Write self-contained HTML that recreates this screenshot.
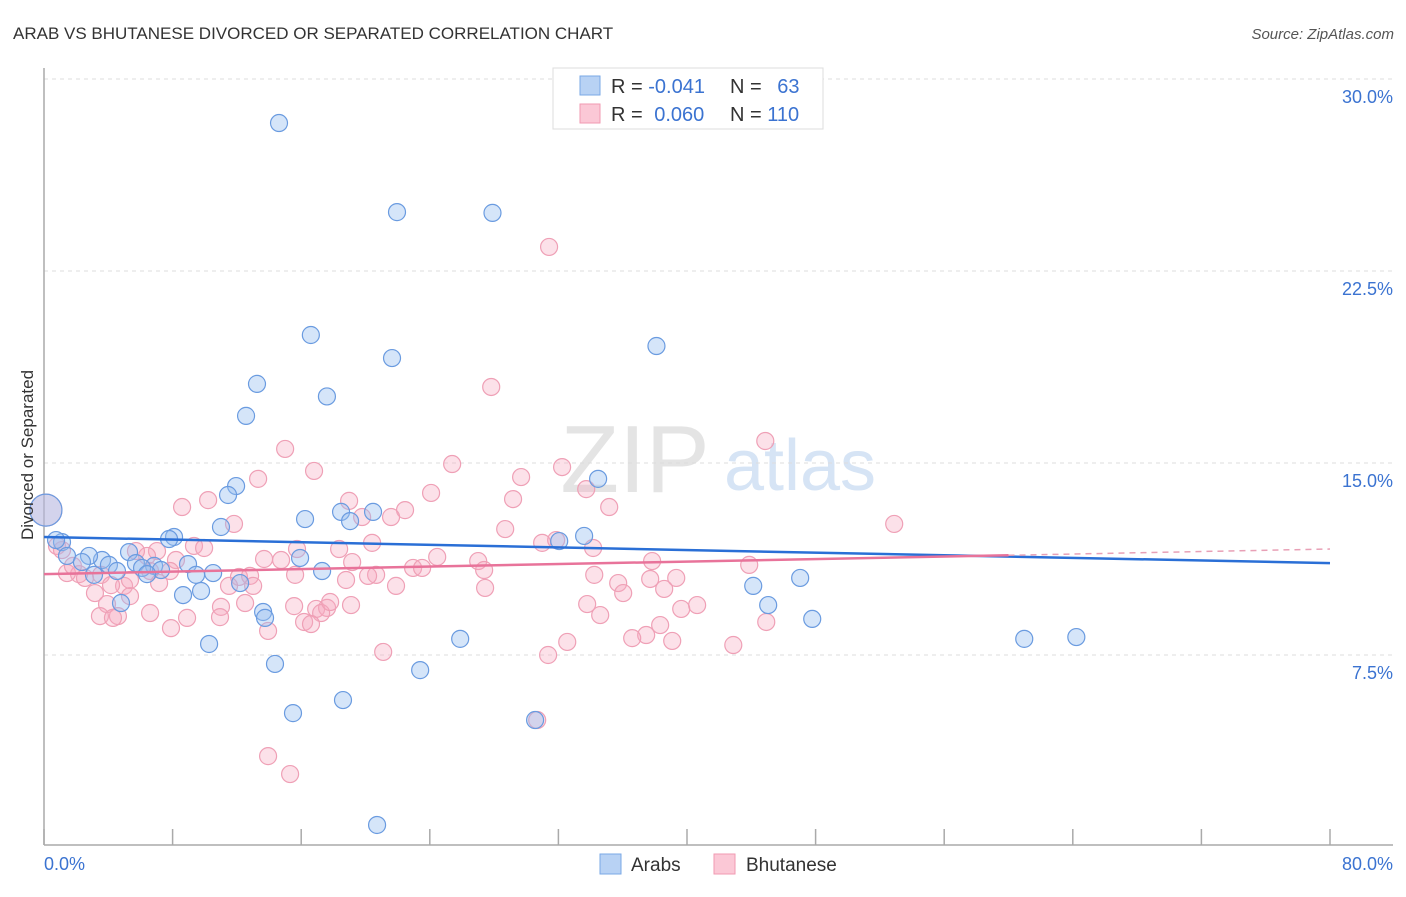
<!DOCTYPE html>
<html><head><meta charset="utf-8"><style>
body{margin:0;background:#fff;font-family:"Liberation Sans",sans-serif;}
svg text{font-family:"Liberation Sans",sans-serif;}
</style></head><body>
<svg id="c" width="1406" height="892" xmlns="http://www.w3.org/2000/svg">
<text x="13" y="39" font-size="17" fill="#333">ARAB VS BHUTANESE DIVORCED OR SEPARATED CORRELATION CHART</text>
<text x="1394" y="39" font-size="15" fill="#555" font-style="italic" text-anchor="end">Source: ZipAtlas.com</text>
<text x="635" y="492" font-size="96" fill="#e4e4e4" font-family="Liberation Serif" text-anchor="middle">ZIP</text>
<text x="800" y="490" font-size="72" fill="#d6e4f5" text-anchor="middle">atlas</text>
<g id="grid"></g><g id="axes"></g><g id="pts"></g><g id="lines"></g>
<text transform="translate(33,455) rotate(-90)" font-size="17" fill="#333" text-anchor="middle">Divorced or Separated</text>
<g>
<rect x="553" y="68" width="270" height="61" fill="#fff" stroke="#ddd"/>
<rect x="580" y="76" width="20" height="19" fill="#b8d2f4" stroke="#7aa8e6"/>
<rect x="580" y="104" width="20" height="19" fill="#fbc8d6" stroke="#f09ab2"/>
<text x="611" y="93" font-size="20" fill="#333">R = <tspan fill="#3b73d1">-0.041</tspan></text>
<text x="730" y="93" font-size="20" fill="#333">N = <tspan fill="#3b73d1" dx="10">63</tspan></text>
<text x="611" y="121" font-size="20" fill="#333">R = <tspan fill="#3b73d1" dx="6">0.060</tspan></text>
<text x="730" y="121" font-size="20" fill="#333">N = <tspan fill="#3b73d1">110</tspan></text>
</g>
<g>
<rect x="600" y="854" width="21" height="20" fill="#b8d2f4" stroke="#7aa8e6"/>
<text x="631" y="871" font-size="19" fill="#333">Arabs</text>
<rect x="714" y="854" width="21" height="20" fill="#fbc8d6" stroke="#f09ab2"/>
<text x="746" y="871" font-size="19" fill="#333">Bhutanese</text>
</g>
</svg>
<script>
const yTicks=[7.5,15,22.5,30];
const yTickLabels=["7.5%","15.0%","22.5%","30.0%"];
const xTicks=[0,8,16,24,32,40,48,56,64,72,80];
const xEndLabels=["0.0%","80.0%"];
const arabX=[14.62,21.96,27.9,16.6,21.65,38.1,13.25,17.6,12.57,34.47,11.95,11.45,20.47,18.48,16.24,19.04,11.01,33.6,32.05,8.09,7.78,1.12,0.75,0.12,5.29,6.85,3.61,2.8,1.43,4.04,2.36,5.72,6.1,7.28,6.41,3.11,4.54,8.96,10.52,9.46,15.93,17.3,8.65,9.77,12.2,4.79,13.63,13.75,44.12,45.05,47.04,47.79,10.27,25.89,14.37,23.4,15.49,18.6,30.55,20.72,60.98,64.22];
const arabY=[28.28,24.8,24.77,20.0,19.1,19.57,18.09,17.6,16.84,14.38,14.1,13.75,13.09,13.09,12.81,12.73,12.5,12.15,11.95,12.11,12.03,11.91,11.99,13.16,11.52,10.98,11.21,11.37,11.37,11.02,11.13,11.09,10.9,10.82,10.66,10.63,10.78,11.05,10.7,10.63,11.29,10.78,9.84,10.0,10.31,9.53,9.18,8.95,10.2,9.45,10.51,8.91,7.93,8.13,7.15,6.91,5.23,5.74,4.96,0.86,8.13,8.2];
const bhuX=[31.42,27.82,44.87,15.0,25.39,16.8,32.23,13.32,29.68,24.08,33.73,18.98,8.59,10.21,29.18,35.16,22.46,21.59,19.79,11.82,28.69,52.89,20.41,30.99,34.16,24.46,27.01,9.33,9.96,15.74,18.36,13.69,14.75,19.17,27.38,22.96,23.52,20.66,18.79,15.62,12.13,12.82,20.16,37.83,43.87,39.33,37.71,35.72,36.03,27.44,38.58,21.9,11.51,13.01,7.03,6.41,8.21,5.72,3.55,2.18,2.55,1.43,0.81,1.12,1.8,3.17,4.98,5.35,3.92,3.48,4.6,6.6,4.29,8.9,11.01,12.51,15.56,16.93,17.61,17.24,17.8,19.1,33.79,34.6,39.64,40.63,38.33,37.46,36.59,39.08,32.55,42.88,44.93,31.36,21.1,13.94,10.95,16.18,16.61,7.9,13.94,15.31,30.68,31.86,34.23,6.6,5.35,7.84,7.16,4.17,0.12];
const bhuY=[23.44,17.97,15.86,15.55,14.96,14.69,14.84,14.38,14.45,13.83,13.98,13.52,13.28,13.55,13.59,13.28,13.16,12.89,12.89,12.62,12.42,12.62,11.88,11.88,11.68,11.33,11.17,11.76,11.68,11.64,11.64,11.25,11.21,11.13,10.82,10.9,10.9,10.63,10.43,10.63,10.55,10.59,10.59,11.17,11.02,10.51,10.47,10.31,9.92,10.12,10.08,10.2,10.2,10.2,11.56,11.37,11.21,11.56,10.63,10.66,10.51,10.7,11.76,11.6,10.98,9.92,10.2,9.8,9.49,9.02,9.02,9.14,8.95,8.95,9.38,9.53,9.41,9.3,9.34,9.14,9.57,9.45,9.49,9.06,9.3,9.45,8.67,8.28,8.16,8.05,8.01,7.89,8.79,7.5,7.62,8.44,8.98,8.79,8.71,8.55,3.55,2.85,4.96,11.99,10.63,10.78,10.43,10.78,10.31,10.23,13.16];
const arabTrend=[12.11,11.09];
const bhuTrend=[10.66,11.64];
const NS="http://www.w3.org/2000/svg";
const sx=v=>44+v*16.075, sy=v=>847-v*25.6;
function mk(tag,attrs,parent){const e=document.createElementNS(NS,tag);for(const k in attrs)e.setAttribute(k,attrs[k]);document.getElementById(parent).appendChild(e);return e;}
yTicks.forEach((t,i)=>{
 const l=mk('line',{x1:44,x2:1393,y1:sy(t),y2:sy(t),stroke:'#ddd','stroke-dasharray':'4,4'},'grid');
 
 
 const tx=mk('text',{x:1393,y:sy(t)+24,'font-size':18,fill:'#3b73d1','text-anchor':'end'},'grid');
 tx.textContent=yTickLabels[i];
 
 
});
const ya=mk('line',{x1:44,x2:44,y1:68,y2:845,stroke:'#aaa','stroke-width':1.5},'axes');


const xa=mk('line',{x1:44,x2:1393,y1:845,y2:845,stroke:'#aaa','stroke-width':1.5},'axes');


xTicks.forEach(t=>{
 const l=mk('line',{x1:sx(t),x2:sx(t),y1:829,y2:845,stroke:'#aaa','stroke-width':1.5},'axes');
 
 
});
[[0,'start',44],[80,'end',1393]].forEach((p,i)=>{
 const tx=mk('text',{x:p[2],y:870,'font-size':18,fill:'#3b73d1','text-anchor':p[1]},'axes');
 tx.textContent=xEndLabels[i];
 
 
});
function pts(X,Y,fill,stroke,name){
 X.forEach((x,i)=>{
  const big=x<0.5;
  const c=mk('circle',{cx:sx(x),cy:sy(Y[i]),r:big?16:8.5,fill:fill,stroke:stroke,'stroke-width':1.2},'pts');
  
  
 });
}
pts(bhuX,bhuY,'rgba(246,170,192,0.35)','#efa0b6','bhutanese-point');
pts(arabX,arabY,'rgba(150,190,240,0.4)','#6a9be0','arab-point');
const bl=mk('line',{x1:sx(0),y1:sy(arabTrend[0]),x2:sx(80),y2:sy(arabTrend[1]),stroke:'#2a6fd6','stroke-width':2.5},'lines');


const ym=bhuTrend[0]+(bhuTrend[1]-bhuTrend[0])*60/80;
const pl=mk('line',{x1:sx(0),y1:sy(bhuTrend[0]),x2:sx(60),y2:sy(ym),stroke:'#e8739a','stroke-width':2.5},'lines');


const pd=mk('line',{x1:sx(60),y1:sy(ym),x2:sx(80),y2:sy(bhuTrend[1]),stroke:'#e8a0b6','stroke-width':1.5,'stroke-dasharray':'6,5'},'lines');


</script>
</body></html>
